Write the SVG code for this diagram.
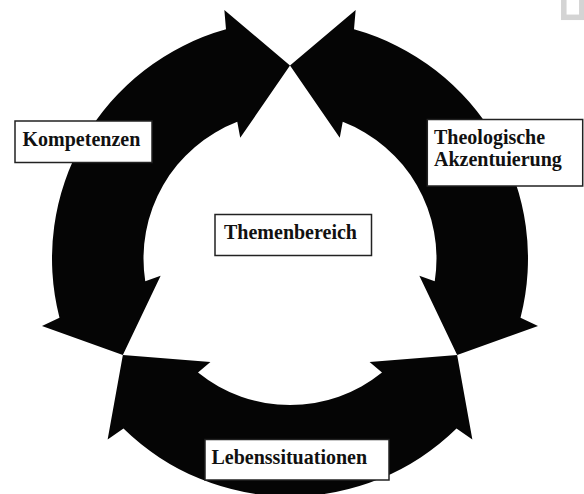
<svg xmlns="http://www.w3.org/2000/svg" xmlns:xlink="http://www.w3.org/1999/xlink" width="584" height="494" viewBox="0 0 584 494">
<style>
.arc{fill:#050505;stroke:none}
.box{fill:#fff;stroke:#222;stroke-width:1.5}
.lbl{font-family:"Liberation Serif","Times New Roman",serif;font-weight:bold;font-size:20px;fill:#111}
</style>
<defs>
<path id="arcShape" class="arc" d="M 457.14 355 L 472.36 439.59 L 456.52 428.54 A 238 238 0 0 1 123.48 428.54 L 107.64 439.59 L 122.86 355 L 210.41 361.92 L 198.0 372.51 A 146.5 146.5 0 0 0 382.0 372.51 L 369.59 361.92 Z"/>
</defs>
<rect x="0" y="0" width="584" height="494" fill="#fff"/>
<rect x="563.8" y="-5" width="18" height="22.3" fill="#fff" stroke="#d4d4d4" stroke-width="5.5"/>
<g id="connectors">
<use xlink:href="#arcShape" href="#arcShape"/>
<use xlink:href="#arcShape" href="#arcShape" transform="rotate(120 290 258.5)"/>
<use xlink:href="#arcShape" href="#arcShape" transform="rotate(240 290 258.5)"/>
</g>
<g id="kompetenzen">
<rect class="box" x="15" y="121" width="137" height="41.5"/>
<text class="lbl" x="22.5" y="145.7">Kompetenzen</text>
</g>
<g id="theologische">
<rect class="box" x="427.3" y="119.5" width="155.4" height="66.5"/>
<text class="lbl" x="434" y="143.5">Theologische</text>
<text class="lbl" x="434" y="166">Akzentuierung</text>
</g>
<g id="themenbereich">
<rect class="box" x="215" y="214.5" width="156.5" height="41"/>
<text class="lbl" x="224" y="238.5">Themenbereich</text>
</g>
<g id="lebenssituationen">
<rect class="box" x="205" y="439.5" width="184" height="40.5"/>
<text class="lbl" x="211.5" y="463.5">Lebenssituationen</text>
</g>
</svg>
